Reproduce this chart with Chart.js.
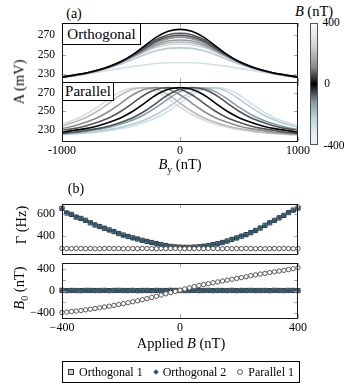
<!DOCTYPE html>
<html>
<head>
<meta charset="utf-8">
<script src="https://cdn.jsdelivr.net/npm/chart.js@4.4.0/dist/chart.umd.min.js"></script>
<style>
body { margin: 0; background: #fff; }
#fig { position: relative; width: 357px; height: 387px; overflow: hidden; font-family: 'Liberation Serif', 'DejaVu Serif', serif; color: #000; }
#fig canvas { position: absolute; left: 0; }
.t { position: absolute; white-space: nowrap; line-height: 1; transform: translate(-50%, -50%); }
.rot { transform: translate(-50%, -50%) rotate(-90deg); }
.box { position: absolute; background: #fff; border: 1px solid #000; box-sizing: border-box; font-size: 15px; display: flex; align-items: center; justify-content: center; z-index: 2; }
#cbar { position: absolute; left: 310px; top: 23px; width: 8px; height: 122px; box-sizing: border-box; border: 1px solid #555;
  background: linear-gradient(to bottom, #f8f8f8 0%, #d4d4d4 18%, #8a8a8a 36%, #2a2a2a 46%, #000 50%, #303438 55%, #8797a0 65%, #bcd2dc 78%, #dfecf2 90%, #e8f2f6 100%); z-index: 2; }
#legend { position: absolute; left: 62px; top: 361px; width: 238px; height: 22px; box-sizing: border-box; border: 1px solid #000; font-size: 12px; display: flex; align-items: center; justify-content: center; }
.sym { display: inline-block; margin-right: 5px; }
.item { display: flex; align-items: center; margin-left: 11px; }
.item:first-child { margin-left: 0; }
.sq { width: 4px; height: 4px; border: 1px solid #333; background: #ccc; }
.dm { width: 4px; height: 4px; background: #1c5d80; transform: rotate(45deg); }
.ci { width: 4px; height: 4px; border: 1px solid #555; border-radius: 50%; background: #fff; }
</style>
</head>
<body>
<div id="fig">
  <div class="t" style="left:74px; top:14px; font-size:14px;">(a)</div>
  <div class="t" style="left:314px; top:11px; font-size:14.5px;"><i>B</i> (nT)</div>
  <canvas id="ortho" width="316" height="60" style="top:22px"></canvas>
  <canvas id="para" width="316" height="78" style="top:81px"></canvas>
  <div class="box" style="left:62px; top:23px; width:79px; height:22px;">Orthogonal</div>
  <div class="box" style="left:62px; top:82px; width:52px; height:19px;">Parallel</div>
  <div class="t rot" style="left:19px; top:82px; font-size:14.5px;">A (mV)</div>
  <div class="t" style="left:180px; top:166px; font-size:14.5px;"><i>B</i><sub style="font-size:10px">y</sub> (nT)</div>
  <div id="cbar"></div>
  <div class="t" style="left:331px; top:23px; font-size:11.5px;">400</div>
  <div class="t" style="left:327px; top:84px; font-size:11.5px;">0</div>
  <div class="t" style="left:334px; top:146px; font-size:11.5px;">-400</div>

  <div class="t" style="left:76px; top:189px; font-size:14px;">(b)</div>
  <canvas id="gamma" width="316" height="60" style="top:199px"></canvas>
  <canvas id="bzero" width="316" height="78" style="top:258px"></canvas>
  <div class="t rot" style="left:21px; top:225px; font-size:14.5px;">Γ (Hz)</div>
  <div class="t rot" style="left:21px; top:288px; font-size:14.5px;"><i>B</i><sub style="font-size:10px">0</sub> (nT)</div>
  <div class="t" style="left:181px; top:343px; font-size:14.5px;">Applied <i>B</i> (nT)</div>
  <div id="legend">
    <span class="item"><span class="sym sq"></span>Orthogonal 1</span>
    <span class="item"><span class="sym dm"></span>Orthogonal 2</span>
    <span class="item"><span class="sym ci"></span>Parallel 1</span>
  </div>
</div>
<script>
// Panel (a): signal amplitude A (mV) against B_y (nT)
var byAxis = [-1000, -900, -800, -700, -600, -500, -400, -300, -200, -100, 0, 100, 200, 300, 400, 500, 600, 700, 800, 900, 1000];

// B field of each curve (nT), drawing order: the first one ends up on top
var curveFields = [0, 100, -100, 200, -200, 300, -300, 400, -400];

var orth0    = [227, 229, 231, 234, 238, 243, 250, 259, 268, 274, 276, 274, 268, 259, 250, 243, 238, 234, 231, 229, 227];
var orthP100 = [227, 229, 231, 234, 238, 243, 249.5, 257.5, 265.5, 270.5, 272, 270.5, 265.5, 257.5, 249.5, 243, 238, 234, 231, 229, 227];
var orthM100 = [227, 229, 231, 234, 237.5, 242.5, 249, 256.5, 264, 268.5, 270, 268.5, 264, 256.5, 249, 242.5, 237.5, 234, 231, 229, 227];
var orthP200 = [227, 229, 231, 233.5, 237.5, 242.5, 248.5, 255.5, 262.5, 266.5, 268, 266.5, 262.5, 255.5, 248.5, 242.5, 237.5, 233.5, 231, 229, 227];
var orthM200 = [227, 228.5, 230.5, 233.5, 237.5, 242, 248, 254.5, 260.5, 264, 265, 264, 260.5, 254.5, 248, 242, 237.5, 233.5, 230.5, 228.5, 227];
var orthP300 = [227, 228.5, 230.5, 233.5, 237.5, 242, 247.5, 253.5, 259, 262, 263, 262, 259, 253.5, 247.5, 242, 237.5, 233.5, 230.5, 228.5, 227];
var orthM300 = [227, 228.5, 230.5, 233, 236.5, 240.5, 245, 250, 254, 256.5, 257, 256.5, 254, 250, 245, 240.5, 236.5, 233, 230.5, 228.5, 227];
var orthP400 = [227, 228.5, 230.5, 233.5, 237, 241.5, 247, 252.5, 257.5, 260, 261, 260, 257.5, 252.5, 247, 241.5, 237, 233.5, 230.5, 228.5, 227];
var orthM400 = [227.5, 229, 230.5, 232, 234, 236, 238, 239.5, 241, 241.8, 242, 241.8, 241, 239.5, 238, 236, 234, 232, 230.5, 229, 227.5];

var para0    = [227, 229, 231, 234, 238, 243, 250, 259, 268, 274, 276, 274, 268, 259, 250, 243, 238, 234, 231, 229, 227];
var paraP100 = [229, 231, 234, 238, 243, 250, 259, 268, 274, 276, 274, 268, 259, 250, 243, 238, 234, 231, 229, 227, 226];
var paraM100 = [226, 227, 229, 231, 234, 238, 243, 250, 259, 268, 274, 276, 274, 268, 259, 250, 243, 238, 234, 231, 229];
var paraP200 = [231, 234, 238, 243, 250, 259, 268, 274, 276, 274, 268, 259, 250, 243, 238, 234, 231, 229, 227, 226, 225];
var paraM200 = [225.5, 226.5, 228, 230, 232.5, 236, 240.5, 246.5, 254.5, 263.5, 271.5, 275.5, 275.5, 271.5, 263.5, 254.5, 246.5, 240.5, 236, 232.5, 230];
var paraP300 = [234, 238, 243, 250, 259, 268, 274, 276, 274, 268, 259, 250, 243, 238, 234, 231, 229, 227, 226, 225, 224.5];
var paraM300 = [224.7, 225.5, 226.5, 228, 230, 232.5, 236, 240.5, 246.5, 254.5, 263.5, 271.5, 275.5, 275.5, 271.5, 263.5, 254.5, 246.5, 240.5, 236, 232.5];
var paraP400 = [236, 240.5, 246.5, 254.5, 263.5, 271.5, 275.5, 275.5, 271.5, 263.5, 254.5, 246.5, 240.5, 236, 232.5, 230, 228, 226.5, 225.5, 224.7, 224.2];
var paraM400 = [224.5, 225, 226, 227, 229, 231, 234, 238, 243, 250, 259, 268, 274, 276, 274, 268, 259, 250, 243, 238, 234];

// Panel (b): fit results against applied B (nT)
var appliedB = [-400, -384, -368, -352, -336, -320, -304, -288, -272, -256, -240, -224, -208, -192, -176, -160, -144, -128, -112, -96, -80, -64, -48, -32, -16, 0,
  16, 32, 48, 64, 80, 96, 112, 128, 144, 160, 176, 192, 208, 224, 240, 256, 272, 288, 304, 320, 336, 352, 368, 384, 400];

var gammaOrth1 = [652, 610, 597, 572, 560, 543, 520, 500, 486, 470, 455, 440, 422, 408, 395, 383, 372, 360, 350, 340, 330, 320, 312, 305, 300, 298,
  296, 296, 298, 301, 306, 313, 320, 329, 340, 354, 368, 382, 398, 412, 430, 450, 472, 497, 520, 542, 565, 588, 614, 636, 655];
var gammaOrth2 = [648, 612, 594, 575, 557, 540, 523, 503, 483, 472, 452, 442, 425, 405, 397, 380, 374, 358, 352, 337, 332, 318, 313, 303, 301, 296,
  297, 294, 299, 300, 308, 311, 322, 327, 342, 352, 370, 380, 400, 410, 432, 448, 475, 494, 522, 540, 568, 585, 617, 633, 658];
var gammaPar1 = [286, 285, 284, 286, 285, 284, 285, 283, 284, 285, 286, 284, 285, 283, 284, 285, 284, 286, 285, 284, 283, 285, 284, 285, 286, 284,
  283, 285, 284, 285, 284, 286, 285, 284, 283, 285, 284, 285, 284, 286, 285, 284, 285, 283, 284, 285, 284, 286, 285, 284, 285];

var b0Orth1 = [3, -2, 1, 0, -3, 2, 1, -1, 0, 2, -2, 1, 3, 0, -1, 2, -3, 0, 1, -2, 2, 0, -1, 3, 1, 0,
  -2, 1, 2, -1, 0, 3, -2, 1, 0, -1, 2, -3, 1, 0, 2, -1, 0, 1, -2, 3, 0, -1, 2, 1, -2];
var b0Orth2 = [-1, 2, 0, -2, 1, 3, -1, 0, 2, -2, 1, 0, -3, 2, 1, -1, 0, 2, -2, 1, 3, -1, 0, 2, -1, 1,
  0, -2, 1, 3, -1, 2, 0, -1, 1, -2, 0, 2, -1, 3, 0, 1, -2, 0, 2, -1, 1, 0, -3, 2, 0];
var b0Par1 = [-400, -392, -383, -374, -364, -352, -340, -328, -314, -300, -286, -271, -255, -239, -222, -205, -187, -168, -148, -127, -105, -83, -60, -38, -16, 6,
  28, 49, 70, 90, 108, 124, 140, 156, 172, 188, 204, 219, 234, 249, 270, 285, 299, 312, 326, 340, 353, 366, 380, 396, 414];

// Styles
var curveColors = ['#000000', '#555555', '#4b5358', '#8c8c8c', '#8a9ba3', '#b9b9b9', '#b4ccd6', '#dadada', '#cfe2ea'];
var serif = "'Liberation Serif', 'DejaVu Serif', serif";

// Cadre + petites graduations vers l'intérieur (style pgfplots)
var frameTicks = {
    id: 'frameTicks',
    afterDraw: function(chart, args, opts) {
        var ctx = chart.ctx;
        var a = chart.chartArea;
        ctx.save();
        ctx.strokeStyle = '#a8a8a8';
        ctx.lineWidth = 1;
        ctx.beginPath();
        (opts.x || []).forEach(function(v) {
            var px = Math.round(chart.scales.x.getPixelForValue(v)) + 0.5;
            ctx.moveTo(px, a.top); ctx.lineTo(px, a.top + 4);
            ctx.moveTo(px, a.bottom); ctx.lineTo(px, a.bottom - 4);
        });
        (opts.y || []).forEach(function(v) {
            var py = Math.round(chart.scales.y.getPixelForValue(v)) + 0.5;
            ctx.moveTo(a.left, py); ctx.lineTo(a.left + 4, py);
            ctx.moveTo(a.right, py); ctx.lineTo(a.right - 4, py);
        });
        ctx.stroke();
        ctx.strokeStyle = '#1a1a1a';
        ctx.strokeRect(a.left + 0.5, a.top + 0.5, a.right - a.left - 1, a.bottom - a.top);
        ctx.restore();
    }
};

function minusSign(v) {
    return v < 0 ? '\u2212' + Math.abs(v) : String(v);
}

function xScale(min, max, ticks, showLabels, fmt) {
    return {
        type: 'linear', min: min, max: max,
        afterBuildTicks: function(s) { s.ticks = ticks.map(function(v) { return { value: v }; }); },
        ticks: { display: showLabels, color: '#000', padding: 3, maxRotation: 0, font: { family: serif, size: 12 }, callback: fmt },
        grid: { display: false, drawTicks: false },
        border: { display: false },
        afterFit: function(s) {
            s.height = showLabels ? 18 : 0;
            s.paddingLeft = 0; s.paddingRight = 0; s.paddingTop = 0; s.paddingBottom = 0;
        }
    };
}

function yScale(min, max, ticks, size, fmt) {
    return {
        min: min, max: max,
        afterBuildTicks: function(s) { s.ticks = ticks.map(function(v) { return { value: v }; }); },
        ticks: { color: '#000', padding: 7, font: { family: serif, size: size }, callback: fmt },
        grid: { display: false, drawTicks: false },
        border: { display: false },
        afterFit: function(s) {
            s.width = 62;
            s.paddingLeft = 0; s.paddingRight = 0; s.paddingTop = 0; s.paddingBottom = 0;
        }
    };
}

function lineSets(curves) {
    return curves.map(function(ys, i) {
        return {
            label: curveFields[i] + ' nT',
            data: ys.map(function(y, j) { return { x: byAxis[j], y: y }; }),
            borderColor: curveColors[i]
        };
    });
}

function baseOptions(x, y, tx, ty) {
    return {
        responsive: false,
        animation: false,
        devicePixelRatio: 1,
        layout: { padding: { top: 1, right: 18, bottom: 0, left: 0 } },
        plugins: { legend: { display: false }, tooltip: { enabled: false }, frameTicks: { x: tx, y: ty } },
        elements: {
            point: { radius: 0 },
            line: { borderWidth: 1.6, tension: 0.4, cubicInterpolationMode: 'monotone', fill: false }
        },
        scales: { x: x, y: y }
    };
}

function plainLabel(v) { return String(v); }

new Chart(document.getElementById('ortho'), {
    type: 'line',
    data: { datasets: lineSets([orth0, orthP100, orthM100, orthP200, orthM200, orthP300, orthM300, orthP400, orthM400]) },
    options: baseOptions(xScale(-1000, 1000, [-1000, 0, 1000], false, plainLabel),
        yScale(222, 282.5, [230, 250, 270], 11.5, plainLabel), [-1000, 0, 1000], [230, 250, 270]),
    plugins: [frameTicks]
});

new Chart(document.getElementById('para'), {
    type: 'line',
    data: { datasets: lineSets([para0, paraP100, paraM100, paraP200, paraM200, paraP300, paraM300, paraP400, paraM400]) },
    options: baseOptions(xScale(-1000, 1000, [-1000, 0, 1000], true, plainLabel),
        yScale(217.5, 282, [230, 250, 270], 11.5, plainLabel), [-1000, 0, 1000], [230, 250, 270]),
    plugins: [frameTicks]
});

function pointSets(orth1, orth2, par1) {
    function pts(ys) { return ys.map(function(y, j) { return { x: appliedB[j], y: y }; }); }
    return [
        { label: 'Parallel 1', data: pts(par1), pointStyle: 'circle', pointRadius: 2.2, backgroundColor: '#ffffff', borderColor: '#555555', borderWidth: 1, clip: 6 },
        { label: 'Orthogonal 2', data: pts(orth2), pointStyle: 'rectRot', pointRadius: 2.1, backgroundColor: '#1c5d80', borderColor: '#0d3a52', borderWidth: 0.6, clip: 6 },
        { label: 'Orthogonal 1', data: pts(orth1), pointStyle: 'rect', pointRadius: 3, backgroundColor: '#cfcfcf', borderColor: '#3a3a3a', borderWidth: 1, clip: 6 }
    ];
}

new Chart(document.getElementById('gamma'), {
    type: 'scatter',
    data: { datasets: pointSets(gammaOrth1, gammaOrth2, gammaPar1) },
    options: baseOptions(xScale(-400, 400, [-400, 0, 400], false, minusSign),
        yScale(235, 692, [400, 600], 12, minusSign), [-400, 0, 400], [400, 600]),
    plugins: [frameTicks]
});

new Chart(document.getElementById('bzero'), {
    type: 'scatter',
    data: { datasets: pointSets(b0Orth1, b0Orth2, b0Par1) },
    options: baseOptions(xScale(-400, 400, [-400, 0, 400], true, minusSign),
        yScale(-500, 500, [-400, -200, 0, 200, 400], 12, minusSign), [-400, 0, 400], [-400, -200, 0, 200, 400]),
    plugins: [frameTicks]
});
</script>
</body>
</html>
